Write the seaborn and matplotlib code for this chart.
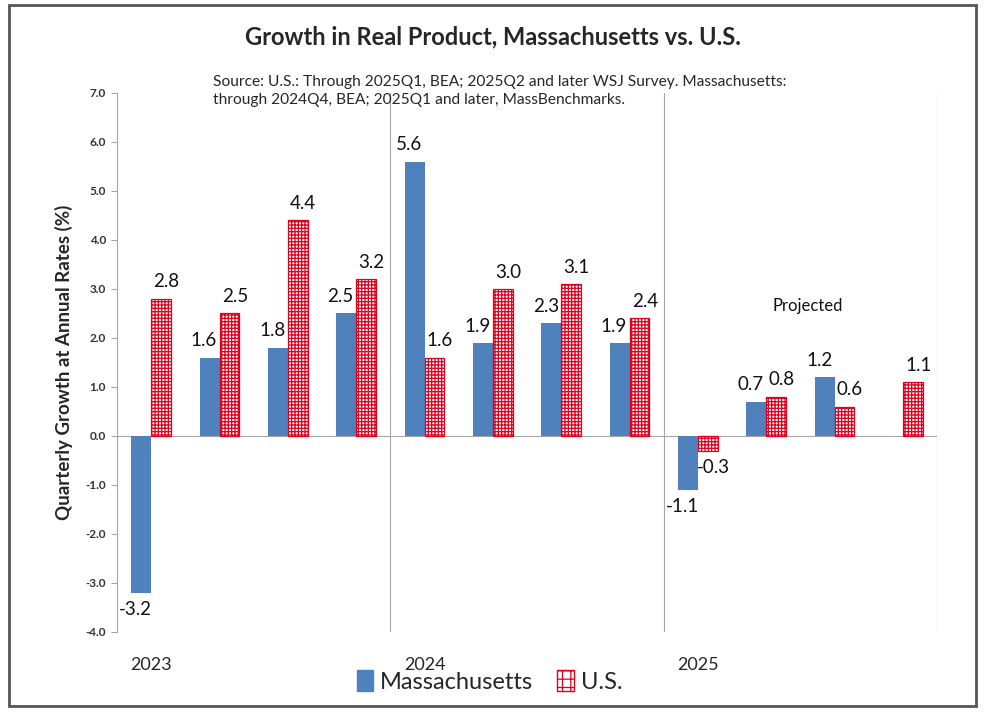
import matplotlib.pyplot as plt
import matplotlib.patches as mpatches
import numpy as np
import pandas as pd
import seaborn as sns

# quarterly growth at annual rates (%)
QUARTERS = [
    "2023Q1", "2023Q2", "2023Q3", "2023Q4",
    "2024Q1", "2024Q2", "2024Q3", "2024Q4",
    "2025Q1", "2025Q2", "2025Q3", "2025Q4",
]
MASS = [-3.2, 1.6, 1.8, 2.5, 5.6, 1.9, 2.3, 1.9, -1.1, 0.7, 1.2, np.nan]
US = [2.8, 2.5, 4.4, 3.2, 1.6, 3.0, 3.1, 2.4, -0.3, 0.8, 0.6, 1.1]
YEAR_LABELS = ["2023", "", "", "", "2024", "", "", "", "2025", "", "", ""]
SERIES = ["Massachusetts", "U.S."]

BLUE = "#4F81BD"
RED = "#E0001B"
GRID = "#A6A6A6"

sns.set_style("white")
plt.rcParams["font.family"] = ["Lato", "DejaVu Sans"]
plt.rcParams["hatch.linewidth"] = 0.9
plt.rcParams["hatch.color"] = RED

rows = []
for q, ma, us in zip(QUARTERS, MASS, US):
    if not np.isnan(ma):
        rows.append([q, "Massachusetts", ma])
    rows.append([q, "U.S.", us])
df = pd.DataFrame(rows, columns=["Quarter", "Series", "Growth"])

fig = plt.figure(figsize=(9.85, 7.15), dpi=100)
ax = fig.add_axes([0.1188, 0.1161, 0.8325, 0.7539])

sns.barplot(
    data=df, x="Quarter", y="Growth", hue="Series", order=QUARTERS,
    hue_order=SERIES, palette=[BLUE, "white"], width=0.58, gap=0,
    errorbar=None, legend=False, ax=ax, saturation=1,
)

# hatch the U.S. bars
for patch in ax.containers[1]:
    patch.set_facecolor("white")
    patch.set_edgecolor(RED)
    patch.set_linewidth(0.9)
    patch.set_hatch("+++++")
for patch in ax.containers[0]:
    patch.set_linewidth(0)

# value labels, nudged apart a little like the original
for cont, dx in zip(ax.containers, [-4, 4]):
    for patch in cont:
        h = patch.get_height()
        if np.isnan(h):
            continue
        x = patch.get_x() + patch.get_width() / 2
        ax.annotate(f"{h:.1f}", (x, h), xytext=(dx, 6 if h >= 0 else -6),
                    textcoords="offset points", ha="center",
                    va="bottom" if h >= 0 else "top", fontsize=13.5, color="#111111")

ax.set_ylim(-4, 7)
ax.set_yticks(np.arange(-4, 7.1, 1))
ax.set_yticklabels([f"{v:.1f}" for v in np.arange(-4, 7.1, 1)], fontsize=8.5,
                   color="#333333", fontweight="bold")
ax.set_xlim(-0.5, len(QUARTERS) - 0.5)
ax.set_xticks(range(len(QUARTERS)))
ax.set_xticklabels(YEAR_LABELS, fontsize=13)
ax.tick_params(axis="x", length=0, pad=18)
ax.tick_params(axis="y", length=4, width=0.8, color=GRID, direction="out", left=True, pad=4)
ax.set_xlabel("")
ax.set_ylabel("Quarterly Growth at Annual Rates (%)", fontsize=13.5, fontweight="bold", labelpad=9)

for side in ["top", "right", "bottom"]:
    ax.spines[side].set_visible(False)
ax.spines["left"].set_color(GRID)
ax.spines["left"].set_linewidth(0.8)
ax.axhline(0, color=GRID, lw=0.8, zorder=0.5)
for xv in [3.5, 7.5, 11.5]:
    ax.axvline(xv, color=GRID, lw=0.8, zorder=0.5)

ax.text(9.6, 2.65, "Projected", ha="center", va="center", fontsize=12, color="#111111")

fig.text(0.5, 0.948, "Growth in Real Product, Massachusetts vs. U.S.",
         ha="center", va="center", fontsize=17, fontweight="bold")
fig.text(0.216, 0.886, "Source: U.S.: Through 2025Q1, BEA; 2025Q2 and later WSJ Survey. Massachusetts:",
         ha="left", va="center", fontsize=11.2)
fig.text(0.216, 0.860, "through 2024Q4, BEA; 2025Q1 and later, MassBenchmarks.",
         ha="left", va="center", fontsize=11.2)

handles = [
    mpatches.Patch(facecolor=BLUE, edgecolor=BLUE, label="Massachusetts"),
    mpatches.Patch(facecolor="white", edgecolor=RED, hatch="++", label="U.S."),
]
fig.legend(handles=handles, loc="center", bbox_to_anchor=(0.497, 0.047), ncol=2,
           frameon=False, fontsize=17, handlelength=0.7, handleheight=1.0,
           handletextpad=0.3, columnspacing=1.0)

# frame around the chart
fig.patches.append(mpatches.Rectangle((0.009, 0.013), 0.982, 0.98, transform=fig.transFigure,
                                      fill=False, edgecolor="#555555", lw=2.0))

fig.savefig("out.png", dpi=100)
